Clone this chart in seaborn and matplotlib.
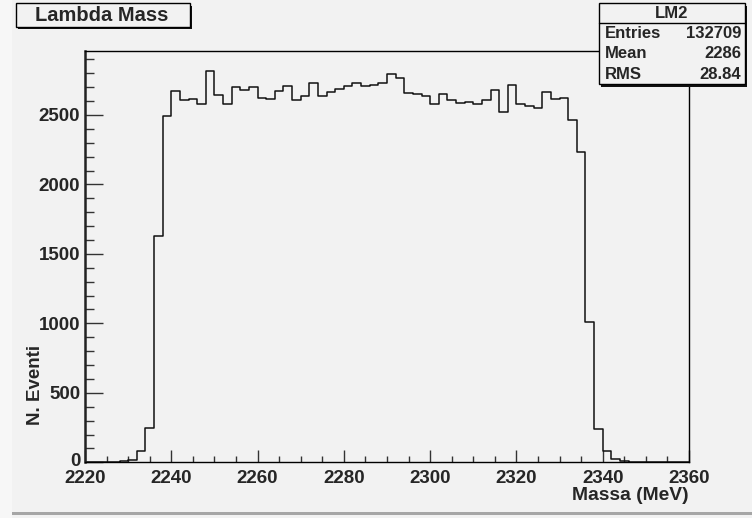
import numpy as np
import pandas as pd
import matplotlib
matplotlib.use("Agg")
import matplotlib.pyplot as plt
import matplotlib.transforms as mtransforms
from matplotlib.patches import Rectangle
from matplotlib.ticker import MultipleLocator
import seaborn as sns

# ---- data ----
bin_edges_start = 2220
bin_width = 2
counts = [0, 1, 2, 5, 10, 18, 78, 250, 1630, 2490,
          2673, 2606, 2617, 2577, 2817, 2644, 2579, 2704, 2678, 2704,
          2622, 2613, 2673, 2711, 2606, 2637, 2733, 2635, 2663, 2685,
          2711, 2733, 2707, 2714, 2733, 2797, 2764, 2661, 2651, 2637,
          2581, 2653, 2610, 2589, 2591, 2579, 2606, 2680, 2522, 2714,
          2577, 2567, 2550, 2665, 2617, 2624, 2464, 2234, 1010, 240,
          80, 25, 11, 5, 2, 1, 1, 0, 0, 0]
x_ticks = [2220, 2240, 2260, 2280, 2300, 2320, 2340, 2360]
y_ticks = [0, 500, 1000, 1500, 2000, 2500]
title_text = "Lambda Mass"
stats_name = "LM2"
stats_labels = ["Entries", "Mean", "RMS"]
stats_values = ["132709", "2286", "28.84"]
x_label = "Massa (MeV)"
y_label = "N. Eventi"

edges = [float(bin_edges_start + bin_width * i) for i in range(len(counts) + 1)]
centers = [(edges[i] + edges[i + 1]) / 2 for i in range(len(counts))]
df = pd.DataFrame({"mass": centers, "n": counts})

# ---- style ----
sns.set_style("ticks")
plt.rcParams["font.family"] = ["Liberation Sans", "DejaVu Sans"]
plt.rcParams["font.weight"] = "bold"

W, H = 752, 518
BG = "#f2f2f2"
fig = plt.figure(figsize=(W / 100, H / 100), dpi=100, facecolor=BG)


def fx(x):
    return x / W


def fy(y):
    return 1 - y / H


ax = fig.add_axes([fx(85), fy(462.3), fx(689) - fx(85), fy(51.3) - fy(462.3)])
ax.set_facecolor(BG)

sns.histplot(data=df, x="mass", weights="n", bins=edges, element="step",
             fill=False, color="#111111", linewidth=1.1, ax=ax)

ax.set_xlim(edges[0], edges[-1])
ax.set_ylim(0, 1.05 * max(counts))
ax.set_xticks(x_ticks)
ax.set_yticks(y_ticks)
ax.xaxis.set_minor_locator(MultipleLocator(5))
ax.yaxis.set_minor_locator(MultipleLocator(100))
ax.set_xlabel("")
ax.set_ylabel("")

for side in ["top", "right", "bottom"]:
    ax.spines[side].set_visible(True)
    ax.spines[side].set_linewidth(1.0)
    ax.spines[side].set_color("black")
ax.spines["left"].set_linewidth(1.8)
ax.spines["left"].set_color("#222222")

ax.tick_params(axis="y", which="major", direction="in", length=13, width=1.0,
               color="#333333", labelsize=13.5, pad=3.5)
ax.tick_params(axis="y", which="minor", direction="in", length=6.5, width=1.0,
               color="#333333")
ax.tick_params(axis="x", which="major", direction="in", length=8.3, width=1.0,
               color="#333333", labelsize=13.5, pad=5.5)
ax.tick_params(axis="x", which="minor", direction="in", length=4.3, width=1.0,
               color="#333333")
for lab in ax.get_xticklabels() + ax.get_yticklabels():
    lab.set_fontweight("bold")

# nudge the "0" label up slightly, as in the reference
zero_lab = ax.yaxis.get_major_ticks()[0].label1
zero_lab.set_transform(zero_lab.get_transform() +
                       mtransforms.ScaledTranslation(0, 2.5 / 100, fig.dpi_scale_trans))

# axis titles
fig.text(fx(688.5), fy(495), x_label, ha="right", va="center",
         fontsize=13.9, fontweight="bold")
fig.text(fx(35.5), fy(385), y_label, ha="center", va="center", rotation=90,
         fontsize=13.5, fontweight="bold")

# title box with shadow
fig.patches.append(Rectangle((fx(18), fy(29.5)), fx(190) - fx(16), fy(3.3) - fy(27),
                             transform=fig.transFigure, facecolor="#111111",
                             edgecolor="none", zorder=5))
fig.patches.append(Rectangle((fx(16), fy(27)), fx(190) - fx(16), fy(3.3) - fy(27),
                             transform=fig.transFigure, facecolor=BG,
                             edgecolor="black", linewidth=1.0, zorder=6))
fig.text(fx(102), fy(15.5), title_text, ha="center", va="center",
         fontsize=14.5, fontweight="bold", zorder=7)

# stats box with shadow
fig.patches.append(Rectangle((fx(601), fy(87)), fx(745) - fx(599), fy(3.3) - fy(84),
                             transform=fig.transFigure, facecolor="#111111",
                             edgecolor="none", zorder=5))
fig.patches.append(Rectangle((fx(599), fy(84)), fx(745) - fx(599), fy(3.3) - fy(84),
                             transform=fig.transFigure, facecolor=BG,
                             edgecolor="black", linewidth=1.0, zorder=6))
fig.lines.append(plt.Line2D([fx(599), fx(745)], [fy(23.3), fy(23.3)],
                            transform=fig.transFigure, color="black",
                            linewidth=1.0, zorder=7))
fig.text(fx(672), fy(13.3), stats_name, ha="center", va="center",
         fontsize=12, fontweight="bold", zorder=8)
for i, (lab, val) in enumerate(zip(stats_labels, stats_values)):
    yy = 33.5 + 20.5 * i
    fig.text(fx(605), fy(yy), lab, ha="left", va="center",
             fontsize=12, fontweight="bold", zorder=8)
    fig.text(fx(741.5), fy(yy), val, ha="right", va="center",
             fontsize=12, fontweight="bold", zorder=8)

# canvas border
fig.patches.append(Rectangle((0, 0), fx(12), 1, transform=fig.transFigure,
                             facecolor="#f7f7f7", edgecolor="none", zorder=0))
fig.patches.append(Rectangle((fx(12), fy(515)), 1 - fx(12), fy(512) - fy(515),
                             transform=fig.transFigure, facecolor="#a6a6a6",
                             edgecolor="none", zorder=0))

fig.savefig("out.png", dpi=100, facecolor=BG)
